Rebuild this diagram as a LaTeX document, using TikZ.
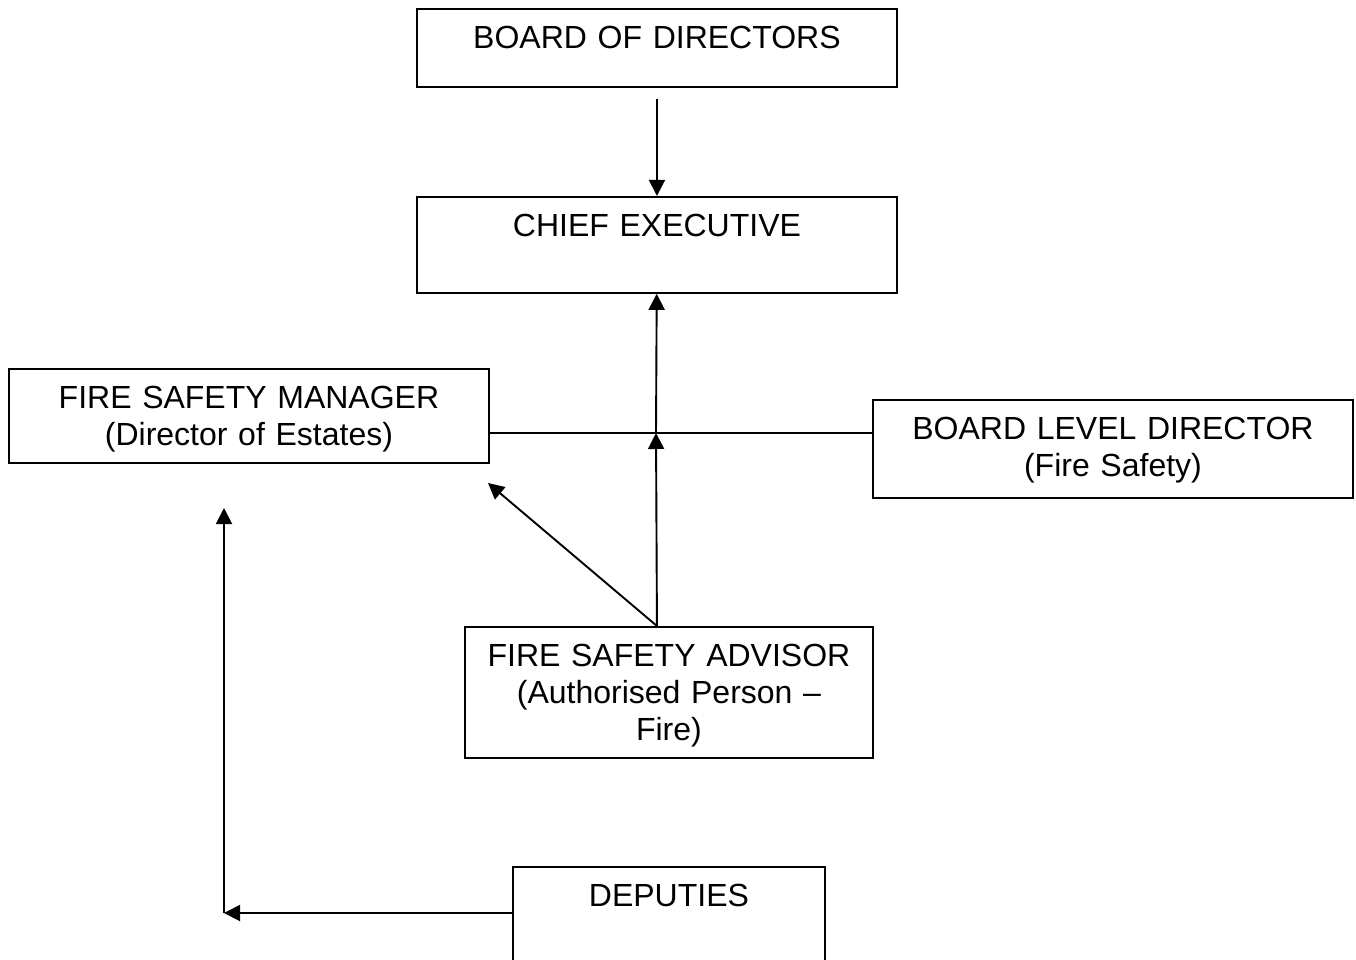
\documentclass[tikz,border=0pt]{standalone}
\usepackage{fontspec}
\setmainfont{Liberation Sans}
\usetikzlibrary{arrows.meta,positioning}

\begin{document}
\begin{tikzpicture}[x=1pt, y=1pt, line width=1.9pt, >={Triangle[length=16pt,width=16pt]},
		unit/.style = {draw, inner sep=0pt, align=center, anchor=north west, text height=40pt, font=\fontsize{32}{37}\selectfont}]
			\clip (0,0) rectangle (1356,-960);
			\node[unit, text width=480pt, text depth=38pt] (board) at (416,-8) {BOARD OF DIRECTORS};
			\node[unit, text width=480pt, text depth=56pt] (ce) [below=108pt of board] {CHIEF EXECUTIVE};
			\node[unit, text width=480pt, text depth=54pt] (fsm) at (8,-368) {FIRE SAFETY MANAGER\\(Director of Estates)};
			\node[unit, text width=480pt, text depth=58pt] (bld) at (872,-399) {BOARD LEVEL DIRECTOR\\(Fire Safety)};
			\node[unit, text width=408pt, text depth=91pt] (fsa) at (464,-626) {FIRE SAFETY ADVISOR\\(Authorised Person --\\Fire)};
			\node[unit, text width=312pt, text depth=100pt] (dep) at (512,-866) {DEPUTIES};

			\coordinate (jn) at (656,-433);
			\coordinate (fsmtip) at (488,-483);
			\coordinate (turn) at (224,-913);
			\coordinate (deptip) at (224,-508);

			\draw[->, shorten <=11pt] (board) -- (ce);
			\draw[->] (ce.south |- fsa.north) -- (jn);
			\draw[->] (jn) -- (ce);
			\draw (fsm.east |- jn) -- (bld.west |- jn);
			\draw[->] (ce.south |- fsa.north) -- (fsmtip);
			\draw[->] (dep.north west |- turn) -- (turn);
			\draw[->] (turn) -- (deptip);
		\end{tikzpicture}
\end{document}
